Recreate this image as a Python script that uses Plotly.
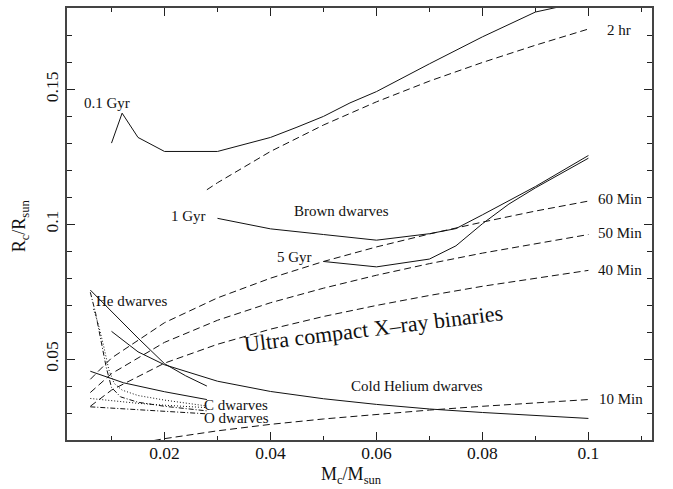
import plotly.graph_objects as go

# ---------------- data ----------------
# 0.1 Gyr brown-dwarf isochrone
gyr01_m = [0.010, 0.012, 0.015, 0.020, 0.030, 0.040, 0.045, 0.050, 0.055, 0.060, 0.070, 0.080, 0.090, 0.100]
gyr01_r = [0.1301, 0.1412, 0.1322, 0.1270, 0.1270, 0.1322, 0.1360, 0.1400, 0.1450, 0.1492, 0.1595, 0.1695, 0.1787, 0.1830]

# 1 Gyr brown-dwarf isochrone
gyr1_m = [0.030, 0.040, 0.050, 0.060, 0.070, 0.075, 0.080, 0.090, 0.100]
gyr1_r = [0.1022, 0.0983, 0.0962, 0.0941, 0.0965, 0.0984, 0.1035, 0.1140, 0.1255]

# 5 Gyr brown-dwarf isochrone
gyr5_m = [0.050, 0.060, 0.070, 0.075, 0.080, 0.085, 0.090, 0.100]
gyr5_r = [0.0862, 0.0842, 0.0871, 0.0920, 0.1002, 0.1075, 0.1135, 0.1245]

# constant orbital period lines
p2h_m = [0.028, 0.030, 0.040, 0.050, 0.060, 0.070, 0.080, 0.090, 0.100]
p2h_r = [0.1128, 0.1154, 0.1270, 0.1368, 0.1454, 0.1531, 0.1600, 0.1664, 0.1724]

per_m = [0.006, 0.010, 0.020, 0.030, 0.040, 0.050, 0.060, 0.070, 0.080, 0.090, 0.100]
p60_r = [0.0425, 0.0504, 0.0635, 0.0727, 0.0800, 0.0862, 0.0916, 0.0964, 0.1008, 0.1049, 0.1086]
p50_r = [0.0376, 0.0446, 0.0562, 0.0644, 0.0709, 0.0763, 0.0811, 0.0854, 0.0893, 0.0928, 0.0962]
p40_r = [0.0325, 0.0385, 0.0485, 0.0555, 0.0611, 0.0658, 0.0699, 0.0736, 0.0770, 0.0800, 0.0829]

p10_m = [0.018, 0.020, 0.030, 0.040, 0.050, 0.060, 0.070, 0.080, 0.090, 0.100]
p10_r = [0.0198, 0.0205, 0.0234, 0.0258, 0.0278, 0.0295, 0.0311, 0.0325, 0.0338, 0.0350]

# white dwarf mass-radius relations
cold_he_m = [0.010, 0.015, 0.020, 0.030, 0.040, 0.050, 0.060, 0.070, 0.080, 0.090, 0.100]
cold_he_r = [0.0603, 0.0527, 0.0479, 0.0418, 0.0380, 0.0353, 0.0332, 0.0315, 0.0302, 0.0290, 0.0280]

he_hot_m = [0.006, 0.010, 0.015, 0.020, 0.024, 0.028]
he_hot_r = [0.0756, 0.0676, 0.0578, 0.0483, 0.0438, 0.0400]

he_warm_m = [0.006, 0.0094, 0.0123, 0.020, 0.028]
he_warm_r = [0.0455, 0.0432, 0.0412, 0.0379, 0.0350]

c_hot_m = [0.0066, 0.0075, 0.0085, 0.0095, 0.0105, 0.012, 0.015, 0.020, 0.028]
c_hot_r = [0.0686, 0.0630, 0.0550, 0.0460, 0.0410, 0.0385, 0.0365, 0.0348, 0.0326]

c_cold_m = [0.006, 0.010, 0.015, 0.020, 0.028]
c_cold_r = [0.0354, 0.0345, 0.0336, 0.0329, 0.0320]

o_hot_m = [0.006, 0.007, 0.008, 0.009, 0.010, 0.0117, 0.015, 0.020, 0.028]
o_hot_r = [0.0748, 0.0670, 0.0570, 0.0470, 0.0395, 0.0360, 0.0340, 0.0325, 0.0308]

o_cold_m = [0.006, 0.010, 0.015, 0.020, 0.028]
o_cold_r = [0.0323, 0.0318, 0.0312, 0.0305, 0.0297]

# ---------------- figure ----------------
FONT = "Liberation Serif"
BLACK = "#111111"
DASH = "7px,4px"
DOT = "1px,2px"
DASHDOT = "5px,2px,1px,2px"

fig = go.Figure()

def add(xs, ys, dash="solid"):
    fig.add_trace(go.Scatter(x=xs, y=ys, mode="lines",
                             line=dict(color=BLACK, width=1, dash=dash),
                             hoverinfo="skip", showlegend=False))

add(gyr01_m, gyr01_r)
add(gyr1_m, gyr1_r)
add(gyr5_m, gyr5_r)
add(p2h_m, p2h_r, DASH)
add(per_m, p60_r, DASH)
add(per_m, p50_r, DASH)
add(per_m, p40_r, DASH)
add(p10_m, p10_r, DASH)
add(cold_he_m, cold_he_r)
add(he_hot_m, he_hot_r)
add(he_warm_m, he_warm_r)
add(c_hot_m, c_hot_r, DOT)
add(c_cold_m, c_cold_r, DOT)
add(o_hot_m, o_hot_r, DASHDOT)
add(o_cold_m, o_cold_r, DASHDOT)

labels = [
    ("0.1 Gyr", 0.0092, 0.1451, 15, 0, "center"),
    ("1 Gyr", 0.0245, 0.1031, 15, 0, "center"),
    ("Brown dwarves", 0.0534, 0.1049, 15, 0, "center"),
    ("5 Gyr", 0.0445, 0.0879, 15, 0, "center"),
    ("He dwarves", 0.0137, 0.0717, 15, 0, "center"),
    ("Cold Helium dwarves", 0.0677, 0.0400, 15, 0, "center"),
    ("Ultra compact X\u2013ray binaries", 0.0594, 0.0614, 22, -7, "center"),
    ("2 hr", 0.1032, 0.1721, 15, 0, "left"),
    ("60 Min", 0.1015, 0.1093, 15, 0, "left"),
    ("50 Min", 0.1015, 0.0968, 15, 0, "left"),
    ("40 Min", 0.1015, 0.0831, 15, 0, "left"),
    ("10 Min", 0.1017, 0.0352, 15, 0, "left"),
    ("C dwarves", 0.0271, 0.0330, 15, 0, "left"),
    ("O dwarves", 0.0271, 0.0282, 15, 0, "left"),
]
for txt, x, y, fs, ang, anc in labels:
    fig.add_annotation(x=x, y=y, xref="x", yref="y", text=txt, showarrow=False,
                       xanchor=anc, yanchor="middle", textangle=ang,
                       font=dict(family=FONT, size=fs, color=BLACK))

# axis titles
fig.add_annotation(x=0.487, y=-0.083, xref="paper", yref="paper",
                   text="M<sub>c</sub>/M<sub>sun</sub>", showarrow=False,
                   xanchor="center", yanchor="middle",
                   font=dict(family=FONT, size=18, color=BLACK))
fig.add_annotation(x=-0.080, y=0.495, xref="paper", yref="paper",
                   text="R<sub>c</sub>/R<sub>sun</sub>", showarrow=False,
                   textangle=-90, xanchor="center", yanchor="middle",
                   font=dict(family=FONT, size=18, color=BLACK))

axis_common = dict(showline=True, linecolor="#444444", linewidth=1.5, mirror="allticks",
                   ticks="inside", ticklen=8, tickcolor="#222222", tickwidth=1,
                   showgrid=False, zeroline=False,
                   tickfont=dict(family=FONT, size=17.5, color=BLACK))

fig.update_xaxes(range=[0.0016, 0.112],
                 tickvals=[0.02, 0.04, 0.06, 0.08, 0.1],
                 ticktext=["0.02", "0.04", "0.06", "0.08", "0.1"],
                 ticklabelstandoff=-4,
                 minor=dict(ticks="inside", ticklen=4, dtick=0.01, tick0=0,
                            tickcolor="#222222", showgrid=False),
                 **axis_common)
fig.update_yaxes(range=[0.02, 0.1802], tickvals=[0.05, 0.1, 0.15],
                 ticktext=["0.05", "0.1", "0.15"], tickangle=-90,
                 ticklabelstandoff=0,
                 minor=dict(ticks="inside", ticklen=5, dtick=0.01, tick0=0,
                            tickcolor="#222222", showgrid=False),
                 **axis_common)

fig.update_layout(width=673, height=489,
                  margin=dict(l=67, r=21, t=6, b=49),
                  paper_bgcolor="white", plot_bgcolor="white",
                  font=dict(family=FONT, color=BLACK))

fig.write_html("out.html",
               config={"displayModeBar": False},
               post_script="document.body.style.margin='0';document.body.style.overflow='hidden';")
